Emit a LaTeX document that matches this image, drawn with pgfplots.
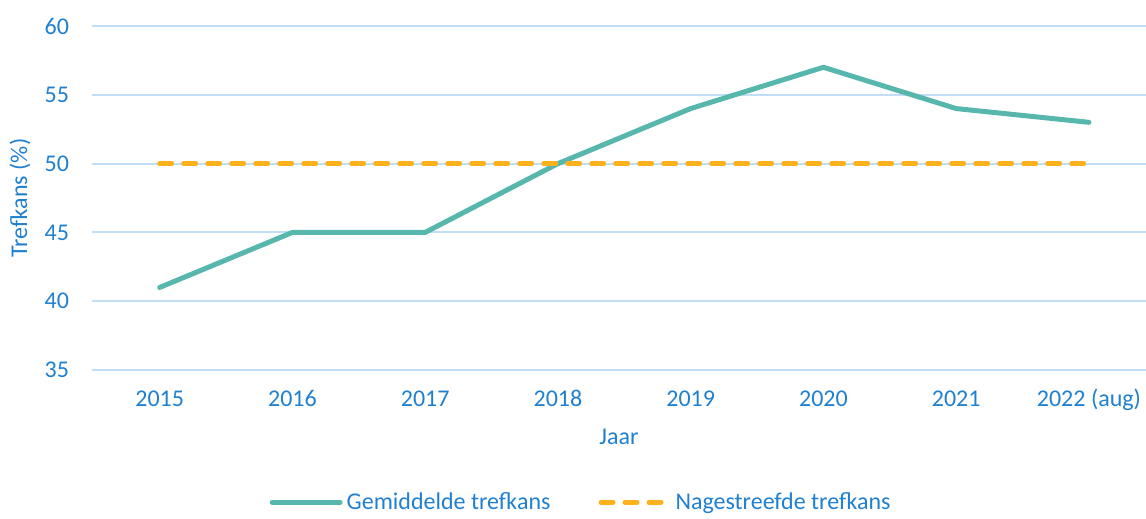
\documentclass[border=0pt]{standalone}
\usepackage{pgfplots}
\pgfplotsset{compat=1.18}
\usepackage{fontspec}
\setmainfont{Carlito}

\definecolor{txtblue}{HTML}{2080D0}
\definecolor{gridblue}{HTML}{C2DEF4}
\definecolor{teal}{HTML}{58B7AD}
\definecolor{gold}{HTML}{FFB11B}

\begin{document}
\begin{tikzpicture}
\begin{axis}[
name=ax,
width=527pt, height=172pt,
scale only axis=true,
xmin=-0.51, xmax=7.43,
ymin=35, ymax=60,
ytick={35,40,45,50,55,60},
xtick={0,1,2,3,4,5,6,7},
xticklabels={2015,2016,2017,2018,2019,2020,2021,2022 (aug)},
axis line style={draw=none},
major tick length=0pt,
ymajorgrids=true,
grid style={gridblue, line width=1pt},
font=\fontsize{12}{14}\selectfont,
tick label style={txtblue},
/pgf/number format/assume math mode=true,
yticklabel style={xshift=-8pt},
xticklabel style={text height=1.6ex, text depth=0.45ex, yshift=-7pt},
xlabel={Jaar},
ylabel={Trefkans (\%)},
label style={txtblue},
xlabel style={at={(axis description cs:0.5,-0.195)}, anchor=center},
ylabel style={at={(axis description cs:-0.0683,0.5)}, anchor=center},
legend columns=2,
legend style={at={(axis description cs:0.465,-0.385)}, anchor=center, draw=none, fill=none,
  font=\fontsize{12}{14}\selectfont\color{txtblue},
  /tikz/every even column/.append style={column sep=22pt}},
legend cell align=left,
legend image code/.code={\draw[#1] (0pt,0pt) -- (34pt,0pt);},
]
\addplot[teal, line width=2.5pt, line cap=round, line join=round]
coordinates {(0,41)(1,45)(2,45)(3,50)(4,54)(5,57)(6,54)(7,53)};
\addplot[gold, line width=2.5pt, line cap=round, dash pattern=on 6pt off 6pt]
coordinates {(0,50)(1,50)(2,50)(3,50)(4,50)(5,50)(6,50)(7,50)};
\legend{Gemiddelde trefkans, Nagestreefde trefkans}
\end{axis}
\pgfresetboundingbox
\path[use as bounding box] ([xshift=-46pt,yshift=-74.5pt]ax.south west) rectangle ([yshift=13pt]ax.north east);
\end{tikzpicture}
\end{document}
